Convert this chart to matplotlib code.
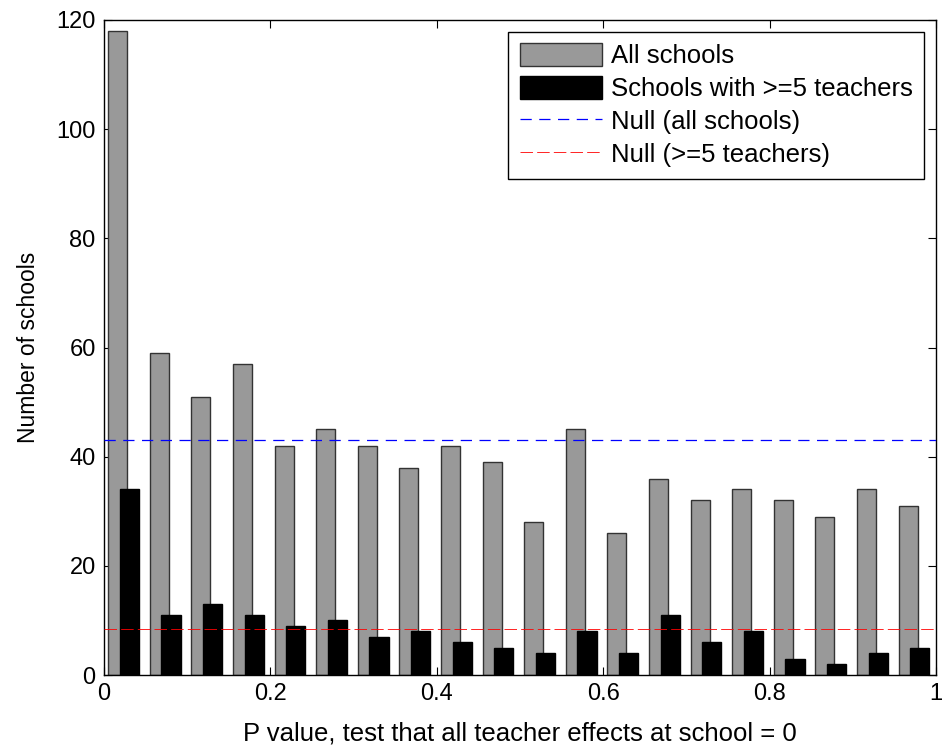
import numpy as np
import matplotlib
matplotlib.use("Agg")
import matplotlib.pyplot as plt

# histogram of p-values, 20 bins on [0, 1]
bin_left = np.arange(20) * 0.05
all_schools = [118, 59, 51, 57, 42, 45, 42, 38, 42, 39,
               28, 45, 26, 36, 32, 34, 32, 29, 34, 31]
big_schools = [34, 11, 13, 11, 9, 10, 7, 8, 6, 5,
               4, 8, 4, 11, 6, 8, 3, 2, 4, 5]
null_all = np.mean(all_schools)
null_big = np.mean(big_schools)

plt.rcParams["font.family"] = ["Liberation Sans", "DejaVu Sans"]
plt.rcParams["font.size"] = 17

fig = plt.figure(figsize=(9.45, 7.51), dpi=100)
ax = fig.add_axes([104 / 945, 1 - 675 / 751, 832 / 945, 655 / 751])

w = 0.023
ax.bar(bin_left + 0.0165, all_schools, width=w, color="#999999",
       edgecolor="#333333", linewidth=1.0, label="All schools", zorder=2)
ax.bar(bin_left + 0.0305, big_schools, width=w, color="black",
       edgecolor="black", linewidth=1.0, label="Schools with >=5 teachers", zorder=3)
ax.axhline(null_all, color="blue", lw=0.9, dashes=(9, 6),
           label="Null (all schools)", zorder=4)
ax.axhline(null_big, color="red", lw=0.6, dashes=(15, 5),
           label="Null (>=5 teachers)", zorder=4)

ax.set_xlim(0, 1)
ax.set_ylim(0, 120)
ax.set_xticks([0, 0.2, 0.4, 0.6, 0.8, 1])
ax.set_xticklabels(["0", "0.2", "0.4", "0.6", "0.8", "1"])
ax.set_yticks(range(0, 121, 20))
ax.tick_params(direction="in", top=True, right=True, length=6, width=0.8, pad=6)
for s in ax.spines.values():
    s.set_linewidth(1.0)

ax.set_xlabel("P value, test that all teacher effects at school = 0",
              fontsize=18.5, labelpad=12)
ax.set_ylabel("Number of schools", fontsize=16.5, labelpad=12)

handles, labels = ax.get_legend_handles_labels()
order = [2, 3, 0, 1]
leg = ax.legend([handles[i] for i in order], [labels[i] for i in order],
                loc="upper right", fancybox=False, edgecolor="black",
                framealpha=1, fontsize=18.5, handlelength=3.2, handleheight=1.0,
                borderaxespad=0.45, borderpad=0.45, labelspacing=0.3,
                handletextpad=0.35)
leg.get_frame().set_linewidth(1.0)

fig.savefig("out.png", dpi=100)
